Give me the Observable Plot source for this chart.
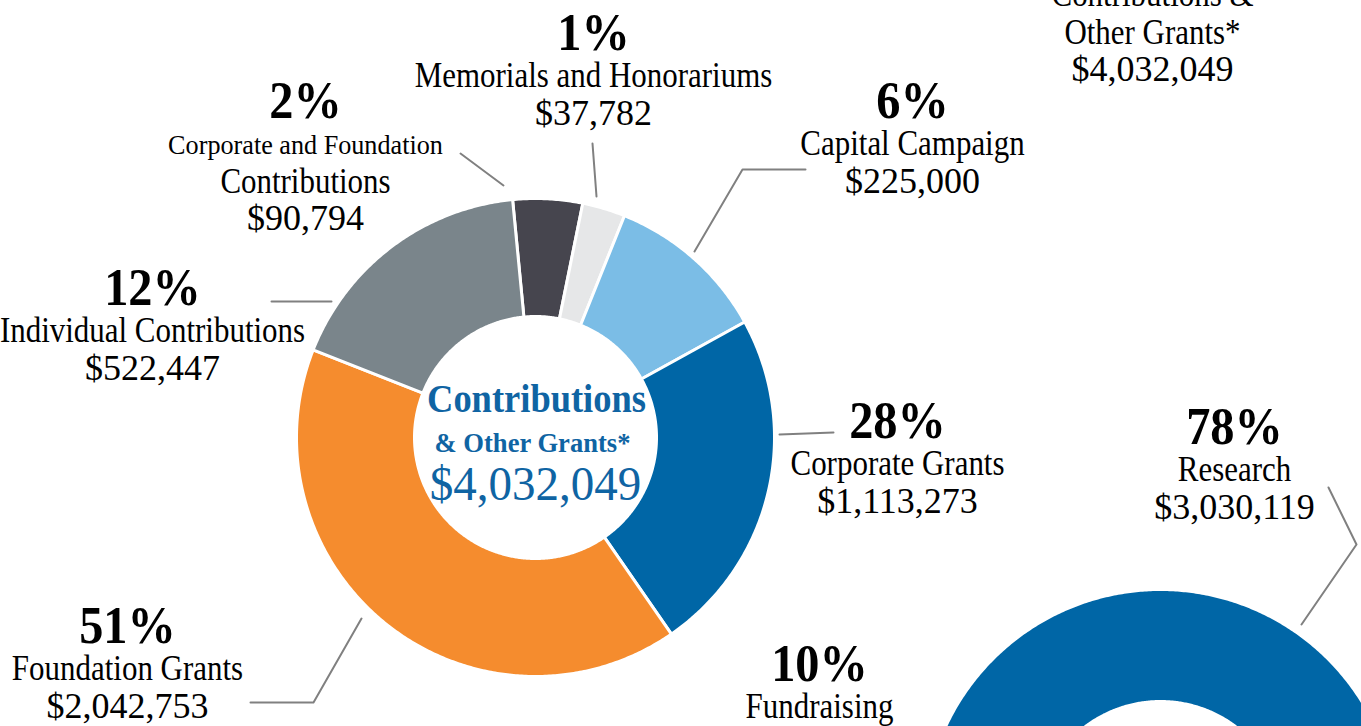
<!DOCTYPE html>
<html>
<head>
<meta charset="utf-8">
<script src="https://cdn.jsdelivr.net/npm/d3@7"></script>
<script src="https://cdn.jsdelivr.net/npm/@observablehq/plot@0.6"></script>
<style>
  html, body { margin: 0; padding: 0; background: #fff; overflow: hidden; }
  #chart svg { display: block; }
</style>
</head>
<body>
<div id="chart"></div>
<script>
// ---------------- DATA ----------------
// Contributions & Other Grants (left donut), clockwise from the top
const categories = [
  "Corporate and Foundation Contributions",
  "Memorials and Honorariums",
  "Capital Campaign",
  "Corporate Grants",
  "Foundation Grants",
  "Individual Contributions"
];
const nameLines = [
  ["Corporate and Foundation", "Contributions"],
  ["Memorials and Honorariums"],
  ["Capital Campaign"],
  ["Corporate Grants"],
  ["Foundation Grants"],
  ["Individual Contributions"]
];
const amounts = [90794, 37782, 225000, 1113273, 2042753, 522447];
const percentLabels = ["2%", "1%", "6%", "28%", "51%", "12%"];
// share of the ring each slice occupies as drawn in the picture (percent of the circle)
const drawnShares = [4.7, 2.9, 10.9, 23.4, 40.6, 17.5];
const sliceColors = ["#46454e", "#e6e7e8", "#7bbde6", "#0066a6", "#f58c2e", "#7a858b"];
const totalLabel = ["Contributions", "& Other Grants*"];
const totalAmount = 4032049;

// Expenses donut (bottom right, mostly cropped)
const expenseCategories = ["Research", "Fundraising"];
const expenseAmounts = [3030119, null];
const expensePercentLabels = ["78%", "10%"];
const expenseDrawnShares = [78, 10];
const expenseColors = ["#0066a6", "#f58c2e"];

// cropped caption at top right
const captionLines = ["Contributions &", "Other Grants*"];
const captionAmount = 4032049;

// ---------------- LAYOUT ----------------
const W = 1361, H = 726;
const ring1 = {cx: 535, cy: 437, r0: 121, r1: 239, start: -5.5};
const ring2 = {cx: 1160, cy: 826, r0: 125, r1: 237, start: 279.2};
// label anchor: centre x and baseline of the percentage line
const labelPos = [
  {x: 305, y: 117}, {x: 593, y: 49}, {x: 912, y: 117},
  {x: 897, y: 437}, {x: 127, y: 642}, {x: 152, y: 304}
];
const expenseLabelPos = [{x: 1234, y: 443}, {x: 819, y: 680}];
const captionPos = {x: 1152, y: 5};
const centerPos = {x: 535, y: 411};
const leaders = [
  [[460, 153], [503, 185]],
  [[592, 143], [596, 196]],
  [[805, 169], [742, 169], [694, 251]],
  [[271, 301], [331, 301]],
  [[779, 434], [833, 432]],
  [[361, 618], [313, 702], [250, 702]],
  [[1328, 487], [1356, 544], [1301, 624]]
];

// ---------------- BUILD ----------------
const fmt = d3.format("$,");
const rad = Math.PI / 180;
const pol = (ring, r, deg) => ({x: ring.cx + r * Math.sin(deg * rad), y: ring.cy - r * Math.cos(deg * rad)});

function ringPoints(ring, shares, keys) {
  const pts = [];
  let a = ring.start;
  shares.forEach((s, i) => {
    const a0 = a, a1 = a + s * 3.6; a = a1;
    const n = Math.max(2, Math.ceil((a1 - a0) / 0.5));
    const angles = d3.range(n + 1).map(k => a0 + (a1 - a0) * k / n);
    const poly = [];
    for (const t of angles) poly.push(pol(ring, ring.r1, t));
    for (const t of angles.slice().reverse()) poly.push(pol(ring, ring.r0, t));
    poly.push(poly[0]);
    poly.forEach(p => pts.push({...p, key: keys[i]}));
  });
  return pts;
}

const ringData = [
  ...ringPoints(ring1, drawnShares, categories),
  ...ringPoints(ring2, expenseDrawnShares, expenseCategories)
];

const leaderData = leaders.flatMap((pts, i) => pts.map(([x, y]) => ({x, y, id: i})));

const rows = [];
const step = 37.5;
categories.forEach((c, i) => {
  const {x, y} = labelPos[i];
  rows.push({text: percentLabels[i], x, y, style: "pct"});
  let yy = y;
  const lines = nameLines[i];
  lines.forEach((ln, j) => {
    if (lines.length > 1 && j === 0) { yy += 36; rows.push({text: ln, x, y: yy, style: "small"}); }
    else { yy += lines.length > 1 ? 39 : step; rows.push({text: ln, x, y: yy, style: "name"}); }
  });
  rows.push({text: fmt(amounts[i]), x, y: yy + step, style: "amt"});
});
expenseCategories.forEach((c, i) => {
  const {x, y} = expenseLabelPos[i];
  rows.push({text: expensePercentLabels[i], x, y, style: "pct"});
  rows.push({text: c, x, y: y + step, style: "name"});
  if (expenseAmounts[i] != null) rows.push({text: fmt(expenseAmounts[i]), x, y: y + 2 * step, style: "amt"});
});
captionLines.forEach((ln, j) => rows.push({text: ln, x: captionPos.x, y: captionPos.y + j * 38, style: "name"}));
rows.push({text: fmt(captionAmount), x: captionPos.x, y: captionPos.y + 75, style: "amt"});

const centerRows = [
  {text: totalLabel[0], x: centerPos.x + 1, y: centerPos.y, style: "ctitle"},
  {text: totalLabel[1], x: centerPos.x - 3, y: centerPos.y + 40, style: "csub"},
  {text: fmt(totalAmount), x: centerPos.x, y: centerPos.y + 88, style: "camt"}
];

const styles = {
  pct:    {fontSize: 52, fontWeight: "bold", fill: "#000", sx: 0.93},
  name:   {fontSize: 36, fontWeight: "normal", fill: "#000", sx: 0.86},
  small:  {fontSize: 27, fontWeight: "normal", fill: "#000", sx: 0.97},
  amt:    {fontSize: 36, fontWeight: "normal", fill: "#000", sx: 1.0},
  ctitle: {fontSize: 41, fontWeight: "bold", fill: "#0f64a3", sx: 0.89},
  csub:   {fontSize: 28, fontWeight: "bold", fill: "#0f64a3", sx: 0.95},
  camt:   {fontSize: 48, fontWeight: "normal", fill: "#0f64a3", sx: 0.98}
};
const styleKeys = Object.keys(styles);

const allRows = [...rows, ...centerRows];
const textMarks = styleKeys.map(k => {
  const s = styles[k];
  return Plot.text(allRows.filter(r => r.style === k), {
    x: "x", y: "y", text: "text",
    textAnchor: "middle", lineAnchor: "bottom",
    fontFamily: "'Liberation Serif', 'Times New Roman', serif",
    fontSize: s.fontSize, fontWeight: s.fontWeight, fill: s.fill,
    ariaDescription: k
  });
});

const chart = Plot.plot({
  width: W, height: H,
  margin: 0,
  x: {domain: [0, W], axis: null},
  y: {domain: [0, H], reverse: true, axis: null},
  color: {domain: [...categories, ...expenseCategories], range: [...sliceColors, ...expenseColors]},
  style: {background: "#fff"},
  marks: [
    Plot.line(ringData, {x: "x", y: "y", z: "key", fill: "key", stroke: "white", strokeWidth: 3, strokeLinejoin: "round"}),
    Plot.line(leaderData, {x: "x", y: "y", z: "id", stroke: "#808080", strokeWidth: 2}),
    ...textMarks
  ]
});
document.getElementById("chart").appendChild(chart);

// horizontally condense the serif text (the original uses a condensed Times face)
let textGroups = Array.from(chart.querySelectorAll("g[aria-description]"));
let keysFor = textGroups.map(g => g.getAttribute("aria-description"));
if (!textGroups.length) {
  textGroups = Array.from(chart.querySelectorAll('g[aria-label="text"]'));
  keysFor = styleKeys;
}
textGroups.forEach((g, gi) => {
  const st = styles[keysFor[gi]];
  if (!st || st.sx === 1) return;
  for (const t of g.querySelectorAll("text")) {
    const tr = t.getAttribute("transform") || "";
    const xa = t.getAttribute("x"), ya = t.getAttribute("y");
    let dx = 0, dy = 0;
    if (xa != null && !/em/.test(xa)) { dx = +xa; t.removeAttribute("x"); }
    if (ya != null && !/em/.test(ya)) { dy = +ya; t.removeAttribute("y"); }
    t.setAttribute("transform", `${tr} translate(${dx},${dy}) scale(${st.sx},1)`);
  }
});
</script>
</body>
</html>
